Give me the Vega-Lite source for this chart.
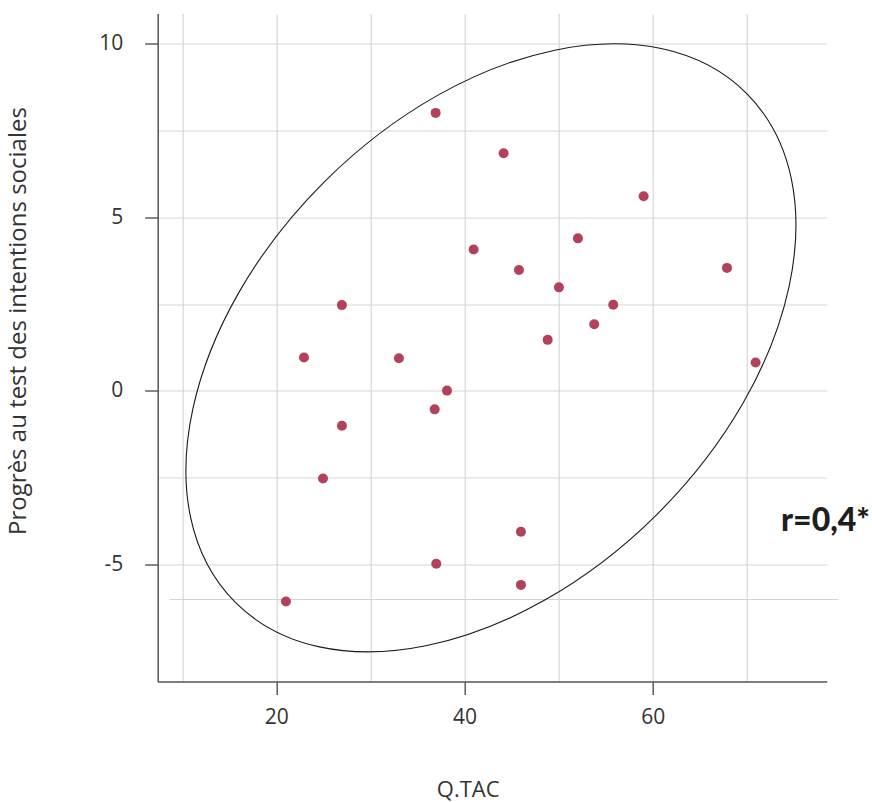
{
  "$schema": "https://vega.github.io/schema/vega-lite/v6.json",
  "autosize": {"type": "none"},
  "padding": {"left": 157.7, "top": 13.5, "right": 45.3, "bottom": 120.5},
  "width": 669,
  "height": 668,
  "background": "white",
  "config": {
    "view": {"stroke": null},
    "font": "Open Sans"
  },
  "datasets": {
    "points": [
      {"qtac": 36.93, "progres": 8.0},
      {"qtac": 44.16, "progres": 6.84},
      {"qtac": 59.04, "progres": 5.6},
      {"qtac": 52.06, "progres": 4.39},
      {"qtac": 40.97, "progres": 4.07},
      {"qtac": 45.79, "progres": 3.48},
      {"qtac": 67.9, "progres": 3.54},
      {"qtac": 50.04, "progres": 2.98},
      {"qtac": 26.97, "progres": 2.47},
      {"qtac": 55.81, "progres": 2.48},
      {"qtac": 53.79, "progres": 1.92},
      {"qtac": 48.84, "progres": 1.47},
      {"qtac": 22.94, "progres": 0.96},
      {"qtac": 33.03, "progres": 0.94},
      {"qtac": 70.94, "progres": 0.82},
      {"qtac": 38.14, "progres": 0.01},
      {"qtac": 36.83, "progres": -0.53},
      {"qtac": 26.97, "progres": -1.0},
      {"qtac": 24.96, "progres": -2.52},
      {"qtac": 46.0, "progres": -4.05},
      {"qtac": 37.0, "progres": -4.97},
      {"qtac": 46.0, "progres": -5.58},
      {"qtac": 21.02, "progres": -6.06}
    ],
    "ellipse": [{"qtac": 42.81, "progres": 1.24}],
    "extraline": [{"qtac": 8.69, "qtac2": 79.7, "progres": -6.0}],
    "label": [{"qtac": 83.1, "progres": -4.04, "text": "r=0,4*"}]
  },
  "layer": [
    {
      "data": {"name": "extraline"},
      "mark": {"type": "rule", "color": "#d3d3d3", "strokeWidth": 1},
      "encoding": {
        "x": {"field": "qtac", "type": "quantitative"},
        "x2": {"field": "qtac2"},
        "y": {"field": "progres", "type": "quantitative"}
      }
    },
    {
      "data": {"name": "ellipse"},
      "mark": {
        "type": "point",
        "shape": "M -1 0 A 1 0.652 0 1 0 1 0 A 1 0.652 0 1 0 -1 0 Z",
        "filled": false,
        "color": "#1a1a1a",
        "strokeWidth": 1.1,
        "opacity": 1,
        "size": 520418,
        "angle": 315.23
      },
      "encoding": {
        "x": {"field": "qtac", "type": "quantitative"},
        "y": {"field": "progres", "type": "quantitative"}
      }
    },
    {
      "data": {"name": "points"},
      "mark": {"type": "circle", "color": "#b3415b", "opacity": 1, "size": 100},
      "encoding": {
        "x": {
          "field": "qtac",
          "type": "quantitative",
          "scale": {"domain": [7.39, 78.5], "nice": false, "zero": false},
          "axis": {
            "values": [10, 20, 30, 40, 50, 60, 70],
            "grid": true,
            "gridColor": "#d0d0d0",
            "gridWidth": 1,
            "labelExpr": "datum.value % 20 === 0 ? toString(datum.value) : ''",
            "tickOpacity": {"condition": {"test": "datum.value % 20 === 0", "value": 1}, "value": 0},
            "tickSize": 13,
            "tickColor": "#444",
            "tickWidth": 1.3,
            "domainColor": "#555",
            "domainWidth": 1.5,
            "labelFont": "Open Sans",
            "labelFontSize": 21,
            "labelFontWeight": 400,
            "labelColor": "#333",
            "labelPadding": 12,
            "labelFlush": false,
            "labelOverlap": false,
            "title": "Q.TAC",
            "titleFont": "Open Sans",
            "titleFontSize": 22,
            "titleFontWeight": 400,
            "titleColor": "#333",
            "titleX": 310,
            "titleY": 114.5,
            "titleAlign": "center",
            "titleBaseline": "alphabetic"
          }
        },
        "y": {
          "field": "progres",
          "type": "quantitative",
          "scale": {"domain": [-8.36, 10.86], "nice": false, "zero": false},
          "axis": {
            "values": [-5, -2.5, 0, 2.5, 5, 7.5, 10],
            "grid": true,
            "gridColor": "#d6d6d6",
            "gridWidth": 1,
            "labelExpr": "datum.value % 5 === 0 ? toString(datum.value) : ''",
            "tickOpacity": {"condition": {"test": "datum.value % 5 === 0", "value": 1}, "value": 0},
            "tickSize": 13,
            "tickColor": "#444",
            "tickWidth": 1.3,
            "domainColor": "#555",
            "domainWidth": 1.5,
            "labelFont": "Open Sans",
            "labelFontSize": 21,
            "labelFontWeight": 400,
            "labelColor": "#333",
            "labelPadding": 22,
            "labelFlush": false,
            "labelOverlap": false,
            "title": "Progrès au test des intentions sociales",
            "titleFont": "Open Sans",
            "titleFontSize": 24,
            "titleFontWeight": 400,
            "titleColor": "#333",
            "titleX": -132,
            "titleY": 307,
            "titleAngle": 270,
            "titleAlign": "center",
            "titleBaseline": "alphabetic"
          }
        }
      }
    },
    {
      "data": {"name": "label"},
      "mark": {
        "type": "text",
        "align": "right",
        "baseline": "alphabetic",
        "font": "Lato",
        "fontSize": 32,
        "fontWeight": 900,
        "color": "#1e1e1e"
      },
      "encoding": {
        "x": {"field": "qtac", "type": "quantitative"},
        "y": {"field": "progres", "type": "quantitative"},
        "text": {"field": "text"}
      }
    }
  ]
}
